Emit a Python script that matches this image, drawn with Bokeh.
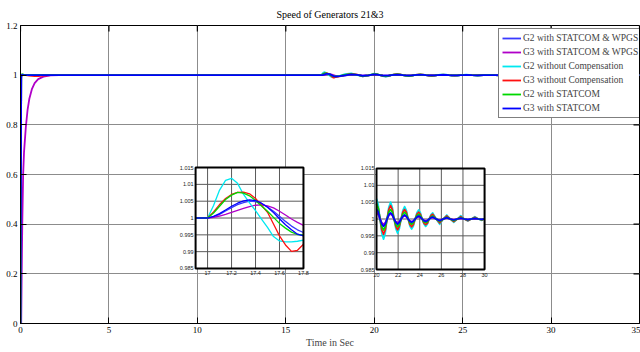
import numpy as np
from bokeh.plotting import figure
from bokeh.models import Range1d, FixedTicker, Legend, LegendItem
from bokeh.embed import file_html
from bokeh.resources import INLINE
from bokeh.core.properties import value

# ---------------- data ----------------
title_text = "Speed of Generators 21&3"
x_label = "Time in Sec"

x_ticks = [0, 5, 10, 15, 20, 25, 30, 35]
x_tick_labels = ["0", "5", "10", "15", "20", "25", "30", "35"]
y_ticks = [0, 0.2, 0.4, 0.6, 0.8, 1.0, 1.2]
y_tick_labels = ["0", "0.2", "0.4", "0.6", "0.8", "1", "1.2"]

inset_y_ticks = [0.985, 0.99, 0.995, 1.0, 1.005, 1.01, 1.015]
inset_y_tick_labels = ["0.985", "0.99", "0.995", "1", "1.005", "1.01", "1.015"]
inset1_x_ticks = [17, 17.2, 17.4, 17.6, 17.8]
inset1_x_tick_labels = ["17", "17.2", "17.4", "17.6", "17.8"]
inset2_x_ticks = [20, 22, 24, 26, 28, 30]
inset2_x_tick_labels = ["20", "22", "24", "26", "28", "30"]

series_names = ["G2 with STATCOM & WPGS", "G3 with STATCOM & WPGS",
                "G2 without Compensation", "G3 without Compensation",
                "G2 with STATCOM", "G3 with STATCOM"]

time_s = [0, 0.02, 0.04, 0.06, 0.1, 0.15, 0.2, 0.3, 0.4, 0.5, 0.65, 0.8, 1.0, 1.3, 1.7, 2.2, 3.0,
          10.0, 16.9,
          17.0, 17.05, 17.1, 17.15, 17.2, 17.25, 17.3, 17.35, 17.4, 17.45, 17.5, 17.55, 17.6, 17.65, 17.7, 17.75, 17.8,
          18.05, 18.35, 18.7, 19.05, 19.35, 19.675,
          20.0, 20.1625, 20.325, 20.4875, 20.65, 20.8125, 20.975, 21.1375, 21.3, 21.4625, 21.625,
          21.7875, 21.95, 22.1125, 22.275, 22.4375, 22.6, 22.7625, 22.925, 23.0875, 23.25, 23.4125,
          23.575, 23.7375, 23.9, 24.0625, 24.225, 24.3875, 24.55, 24.7125, 24.875, 25.0375, 25.2,
          25.525, 25.85, 26.175, 26.5, 26.825, 27.15, 27.475, 27.8, 28.125, 28.45, 28.775, 29.1, 29.425, 29.75, 30.0,
          31.0, 35.0]

g2_wpgs = [0, 0.45, 0.99, 1.001, 1.001, 1.0, 1.0, 1.0, 1.0, 1.0, 1.0, 1.0, 1.0, 1.0, 1.0, 1.0, 1.0,
           1.0, 1.0,
           1.0, 1.0004, 1.0011, 1.0021, 1.0031, 1.0040, 1.0046, 1.0050, 1.0049, 1.0043, 1.0033, 1.0020, 1.0005, 0.9990, 0.9976, 0.9965, 0.9957,
           0.9965, 0.9995, 1.0025, 1.0012, 0.9980, 0.9997,
           1.0020, 1.0014, 1.0, 0.9987, 0.9982, 0.9987, 1.0, 1.0011, 1.0015, 1.0011, 1.0,
           0.9992, 0.9988, 0.9992, 1.0, 1.0007, 1.0010, 1.0007, 1.0, 0.9994, 0.9992, 0.9994,
           1.0, 1.0005, 1.0007, 1.0005, 1.0, 0.9996, 0.9994, 0.9996, 1.0, 1.0004, 1.0005,
           1.0, 0.9996, 1.0, 1.0003, 1.0, 0.9997, 1.0, 1.0002, 1.0, 0.9998, 1.0, 1.0001, 1.0, 0.9999, 1.0,
           1.0, 1.0]

g3_wpgs = [0, 0.0, 0.0, 0.15, 0.4, 0.6, 0.69, 0.79, 0.86, 0.905, 0.945, 0.968, 0.984, 0.994, 0.999, 1.0005, 1.0,
           1.0, 1.0,
           1.0, 1.0002, 1.0006, 1.0011, 1.0017, 1.0023, 1.0029, 1.0034, 1.0038, 1.0039, 1.0036, 1.0030, 1.0020, 1.0009, 0.9997, 0.9987, 0.9978,
           0.9975, 0.9990, 1.0015, 1.0012, 0.9985, 0.9997,
           1.0018, 1.0013, 1.0, 0.9989, 0.9984, 0.9989, 1.0, 1.0011, 1.0015, 1.0011, 1.0,
           0.9992, 0.9989, 0.9992, 1.0, 1.0007, 1.0010, 1.0007, 1.0, 0.9994, 0.9992, 0.9994,
           1.0, 1.0005, 1.0007, 1.0005, 1.0, 0.9996, 0.9995, 0.9996, 1.0, 1.0004, 1.0005,
           1.0, 0.9996, 1.0, 1.0003, 1.0, 0.9998, 1.0, 1.0002, 1.0, 0.9998, 1.0, 1.0001, 1.0, 0.9999, 1.0,
           1.0, 1.0]

g2_nocomp = [0, 0.5, 0.995, 1.002, 1.002, 1.002, 1.001, 1.0, 1.0, 1.0, 1.0, 1.0, 1.0, 1.0, 1.0, 1.0, 1.0,
             1.0, 1.0,
             1.0, 1.0037, 1.0083, 1.0112, 1.0118, 1.0103, 1.0070, 1.0045, 1.0022, 0.9997, 0.9972, 0.9945, 0.9932, 0.9929, 0.9929, 0.9931, 0.9934,
             0.9975, 1.0040, 1.0068, 1.0005, 0.9948, 0.9995,
             1.0060, 1.0042, 1.0, 0.9958, 0.9940, 0.9958, 1.0, 1.0035, 1.0050, 1.0035, 1.0,
             0.9971, 0.9958, 0.9971, 1.0, 1.0026, 1.0037, 1.0026, 1.0, 0.9979, 0.9970, 0.9979,
             1.0, 1.0019, 1.0027, 1.0019, 1.0, 0.9985, 0.9978, 0.9985, 1.0, 1.0013, 1.0018,
             1.0, 0.9984, 1.0, 1.0012, 1.0, 0.9990, 1.0, 1.0010, 1.0, 0.9994, 1.0, 1.0007, 1.0, 0.9996, 1.0001,
             1.0, 1.0]

g3_nocomp = [0, 0.5, 0.995, 1.001, 1.002, 1.001, 1.0, 1.0, 0.999, 0.998, 0.997, 0.996, 0.996, 0.998, 1.0, 1.0, 1.0,
             1.0, 1.0,
             1.0, 1.0018, 1.0040, 1.0058, 1.0070, 1.0076, 1.0077, 1.0072, 1.0058, 1.0038, 1.0017, 0.9982, 0.9947, 0.9920, 0.9901, 0.9904, 0.9922,
             0.9950, 1.0010, 1.0055, 1.0020, 0.9955, 0.9990,
             1.0045, 1.0032, 1.0, 0.9968, 0.9955, 0.9968, 1.0, 1.0028, 1.0040, 1.0028, 1.0,
             0.9978, 0.9968, 0.9978, 1.0, 1.0020, 1.0028, 1.0020, 1.0, 0.9984, 0.9977, 0.9984,
             1.0, 1.0014, 1.0020, 1.0014, 1.0, 0.9988, 0.9983, 0.9988, 1.0, 1.0010, 1.0014,
             1.0, 0.9988, 1.0, 1.0009, 1.0, 0.9992, 1.0, 1.0007, 1.0, 0.9995, 1.0, 1.0005, 1.0, 0.9997, 1.0001,
             1.0, 1.0]

g2_statcom = [0, 0.5, 0.995, 1.002, 1.003, 1.002, 1.001, 1.0, 1.0, 1.0, 1.0, 1.0, 1.0, 1.0, 1.0, 1.0, 1.0,
              1.0, 1.0,
              1.0, 1.0015, 1.0035, 1.0055, 1.0068, 1.0076, 1.0074, 1.0066, 1.0052, 1.0036, 1.0020, 1.0002, 0.9984, 0.9970, 0.9958, 0.9951, 0.9949,
              0.9965, 1.0010, 1.0045, 1.0010, 0.9965, 0.9995,
              1.0045, 1.0032, 1.0, 0.9977, 0.9967, 0.9977, 1.0, 1.0020, 1.0028, 1.0020, 1.0,
              0.9984, 0.9977, 0.9984, 1.0, 1.0014, 1.0020, 1.0014, 1.0, 0.9989, 0.9984, 0.9989,
              1.0, 1.0010, 1.0014, 1.0010, 1.0, 0.9992, 0.9989, 0.9992, 1.0, 1.0006, 1.0009,
              1.0, 0.9992, 1.0, 1.0006, 1.0, 0.9995, 1.0, 1.0004, 1.0, 0.9997, 1.0, 1.0003, 1.0, 0.9998, 1.0,
              1.0, 1.0]

g3_statcom = [0, 0.45, 0.99, 1.001, 1.001, 1.0, 1.0, 1.0, 1.0, 1.0, 1.0, 1.0, 1.0, 1.0, 1.0, 1.0, 1.0,
              1.0, 1.0,
              1.0, 1.0005, 1.0013, 1.0024, 1.0035, 1.0044, 1.0051, 1.0054, 1.0052, 1.0044, 1.0032, 1.0016, 0.9998, 0.9980, 0.9965, 0.9952, 0.9947,
              0.9960, 0.9995, 1.0030, 1.0015, 0.9975, 0.9995,
              1.0030, 1.0021, 1.0, 0.9985, 0.9978, 0.9985, 1.0, 1.0013, 1.0018, 1.0013, 1.0,
              0.9990, 0.9985, 0.9990, 1.0, 1.0008, 1.0012, 1.0008, 1.0, 0.9993, 0.9990, 0.9993,
              1.0, 1.0006, 1.0009, 1.0006, 1.0, 0.9995, 0.9993, 0.9995, 1.0, 1.0004, 1.0006,
              1.0, 0.9995, 1.0, 1.0004, 1.0, 0.9997, 1.0, 1.0003, 1.0, 0.9998, 1.0, 1.0002, 1.0, 0.9999, 1.0,
              1.0, 1.0]

series_values = [g2_wpgs, g3_wpgs, g2_nocomp, g3_nocomp, g2_statcom, g3_statcom]

# ---------------- styling / layout ----------------
colors = ["#3a3aff", "#b000c8", "#00e8f0", "#ff1010", "#00d800", "#0000ff"]
SERIF = "Liberation Serif"
SANS = "Liberation Sans"

main_x = (0, 35)
main_y = (0, 1.2)
inset_y = (0.985, 1.015)
inset1_x = (16.9, 17.8)
inset2_x = (20.0, 30.0)
# inset frames placed in the main axes' coordinates
inset1_target = ((9.9, 16.0), (0.2215, 0.628))
inset2_target = ((20.13, 26.24), (0.2174, 0.6242))

p = figure(width=640, height=352, output_backend="svg", toolbar_location=None,
           x_range=Range1d(*main_x), y_range=Range1d(*main_y),
           min_border_left=20, min_border_right=1, min_border_top=25, min_border_bottom=29,
           title=title_text)
p.background_fill_color = "white"
p.border_fill_color = "white"
p.outline_line_color = "black"
p.outline_line_width = 1

p.title.align = "center"
p.title.vertical_align = "bottom"
p.title.text_font = SERIF
p.title.text_font_size = "10px"
p.title.text_font_style = "normal"
p.title.text_color = "black"
p.title.standoff = 11

xax = p.xaxis[0]
yax = p.yaxis[0]
for ax, ticks, labels in ((xax, x_ticks, x_tick_labels), (yax, y_ticks, y_tick_labels)):
    ax.ticker = FixedTicker(ticks=ticks)
    ax.major_label_overrides = dict(zip(ticks, labels))
    ax.major_label_text_font = SERIF
    ax.major_label_text_font_size = "9px"
    ax.major_label_text_color = "black"
    ax.major_tick_in = 6
    ax.major_tick_out = 0
    ax.minor_tick_line_color = None
    ax.axis_line_color = "black"
    ax.major_tick_line_color = "black"
    ax.major_label_standoff = 3
xax.axis_label = x_label
xax.axis_label_text_font = SERIF
xax.axis_label_text_font_size = "10px"
xax.axis_label_text_font_style = "normal"
xax.axis_label_standoff = 1

p.xgrid.ticker = FixedTicker(ticks=x_ticks)
p.ygrid.ticker = FixedTicker(ticks=y_ticks)
for g in (p.xgrid, p.ygrid):
    g.grid_line_color = "#8c8c8c"
    g.grid_line_width = 1

# tick marks along the top and right edges of the frame
p.ray(x=x_ticks, y=[main_y[1]] * len(x_ticks), length=6, length_units="screen",
      angle=-np.pi / 2, line_color="black", line_width=1.2)
p.ray(x=[main_x[1]] * len(y_ticks), y=y_ticks, length=6, length_units="screen",
      angle=np.pi, line_color="black", line_width=1.2)

# main curves
renderers = []
for vals, col in zip(series_values, colors):
    r = p.line(time_s, vals, line_color=col, line_width=1.8)
    renderers.append(r)

t_arr = np.array(time_s)


def draw_inset(xr, target, xticks, xlabels, lw):
    sub = p.subplot(x_source=Range1d(*xr), y_source=Range1d(*inset_y),
                    x_target=Range1d(*target[0]), y_target=Range1d(*target[1]))
    sub.quad(left=[xr[0]], right=[xr[1]], bottom=[inset_y[0]], top=[inset_y[1]],
             fill_color="white", line_color=None)
    nx, ny = len(xticks), len(inset_y_ticks)
    sub.segment(x0=xticks, x1=xticks, y0=[inset_y[0]] * nx, y1=[inset_y[1]] * nx,
                line_color="#5a5a5a", line_width=1)
    sub.segment(x0=[xr[0]] * ny, x1=[xr[1]] * ny, y0=inset_y_ticks, y1=inset_y_ticks,
                line_color="#5a5a5a", line_width=1)
    mask = (t_arr >= xr[0]) & (t_arr <= xr[1])
    for vals, col in zip(series_values, colors):
        sub.line(t_arr[mask], np.array(vals)[mask], line_color=col, line_width=lw,
                 line_join="round")
    sub.quad(left=[xr[0]], right=[xr[1]], bottom=[inset_y[0]], top=[inset_y[1]],
             fill_color=None, line_color="black", line_width=2)
    sub.text(x=xticks, y=[inset_y[0]] * nx, text=xlabels, text_font=value(SANS),
             text_font_size="5.5px", text_color="#222222", text_align="center",
             text_baseline="top", y_offset=3)
    sub.text(x=[xr[0]] * ny, y=inset_y_ticks, text=inset_y_tick_labels, text_font=value(SANS),
             text_font_size="5.5px", text_color="#222222", text_align="right",
             text_baseline="middle", x_offset=-2)


draw_inset(inset1_x, inset1_target, inset1_x_ticks, inset1_x_tick_labels, 1.3)
draw_inset(inset2_x, inset2_target, inset2_x_ticks, inset2_x_tick_labels, 1.7)

legend = Legend(items=[LegendItem(label=n, renderers=[r]) for n, r in zip(series_names, renderers)],
                location=(478, 205))
legend.label_text_font = SERIF
legend.label_text_font_size = "9.5px"
legend.label_height = 12
legend.glyph_height = 12
legend.glyph_width = 19
legend.label_standoff = 2
legend.spacing = 2
legend.padding = 3
legend.margin = 0
legend.border_line_color = "black"
legend.border_line_width = 1.5
legend.background_fill_color = "white"
legend.background_fill_alpha = 1
p.add_layout(legend, "center")

open("out.html", "w").write(file_html(p, INLINE))
